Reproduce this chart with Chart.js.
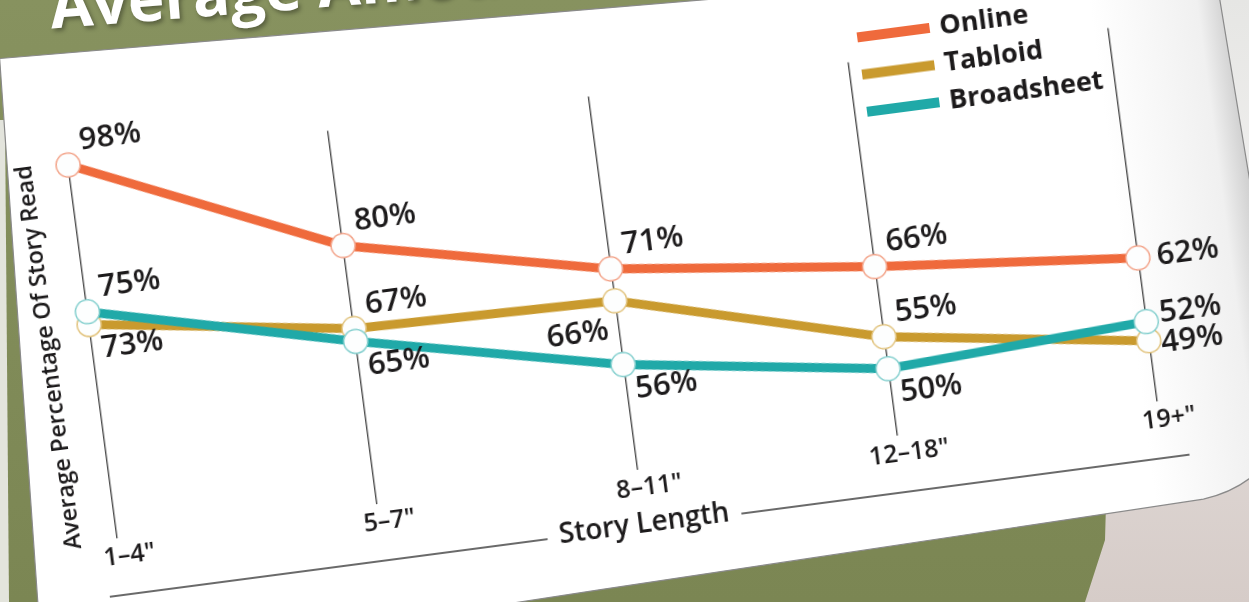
<!DOCTYPE html>
<html>
<head>
<meta charset="utf-8">
<script src="https://cdn.jsdelivr.net/npm/chart.js@4.4.1/dist/chart.umd.min.js"></script>
<style>
  html, body { margin: 0; padding: 0; }
  body {
    width: 1249px; height: 602px; overflow: hidden; position: relative;
    background: linear-gradient(180deg, #87925f 0%, #7b8653 100%);
    font-family: "Open Sans", sans-serif;
  }
  #paper {
    position: absolute; left: 0; top: 0; width: 1249px; height: 602px;
    background: linear-gradient(180deg, #e6e6e4 0%, #f3f2f1 45%, #ddd5d2 75%, #d6ccc8 100%);
    clip-path: polygon(1120px 0, 1249px 0, 1249px 602px, 1085px 602px, 1105px 540px);
  }
  #edge {
    position: absolute; left: 0; top: 0; width: 12px; height: 602px; background: #e3e4dc;
    clip-path: polygon(0 120px, 5px 120px, 9px 602px, 0 602px);
  }
  #frame {
    position: absolute; left: 0; top: 0; width: 1260px; height: 680px;
    transform-origin: 0 0; transform: rotate(-7.5deg);
  }
  #sheet { position: absolute; left: 0; top: 0; overflow: visible; }
  #title {
    position: absolute; left: 47px; top: -20px; color: #fff; white-space: nowrap;
    font: 700 62px "Open Sans"; line-height: 1;
    transform-origin: 0 100%; transform: rotate(3deg);
    text-shadow: 2px 3px 4px rgba(0, 0, 0, .35);
  }
  #chart { position: absolute; left: -30px; top: 0; }
</style>
</head>
<body>
<div id="paper"></div>
<div id="edge"></div>
<div id="frame">
  <div id="title">Average Amount Read</div>
  <svg id="sheet" width="1260" height="680">
    <defs>
      <linearGradient id="curl" gradientUnits="userSpaceOnUse" x1="1080" y1="0" x2="1222" y2="0">
        <stop offset="0" stop-color="#ffffff"/>
        <stop offset="0.75" stop-color="#f0f0f0"/>
        <stop offset="1" stop-color="#c8c8c8"/>
      </linearGradient>
    </defs>
    <path d="M -8 58 L 1208 116 L 1222 540 Q 1222 642 1128 652 L 517 663 L -45 675 L -41 600 Z"
          fill="url(#curl)" stroke="#8a8a8a" stroke-width="1.2"/>
  </svg>
  <canvas id="chart" width="1260" height="640"></canvas>
</div>

<script>
const categories = ['1–4"', '5–7"', '8–11"', '12–18"', '19+"'];
const online = [98, 80, 71, 66, 62];
const tabloid = [73, 67, 66, 55, 49];
const broadsheet = [75, 65, 56, 50, 52];

// where each value label sits next to its point (one row per series)
const labelSpots = [
    ['ne', 'ne', 'ne', 'ne', 'e'],
    ['se', 'ne', 'sw', 'ne', 'es'],
    ['ne', 'se', 'se', 'se', 'en']
];
const spot = {
    ne: [14, -22, 'left'], se: [9, 26, 'left'], e: [19, 1, 'left'],
    sw: [-10, 29, 'right'], en: [14, -6, 'left'], es: [12, 4, 'left']
};

Chart.defaults.font.family = '"Open Sans", sans-serif';
const ink = '#1c1a1b';

const valueLabels = {
    id: 'valueLabels',
    afterDatasetsDraw(chart) {
        const ctx = chart.ctx;
        ctx.save();
        ctx.font = '600 31px "Open Sans"';
        ctx.fillStyle = ink;
        ctx.textBaseline = 'middle';
        chart.data.datasets.forEach((ds, i) => {
            chart.getDatasetMeta(i).data.forEach((pt, j) => {
                const s = spot[labelSpots[i][j]];
                ctx.textAlign = s[2];
                ctx.fillText(ds.data[j] + '%', pt.x + s[0], pt.y + s[1]);
            });
        });
        ctx.restore();
    }
};

// stacked legend in the upper right
const sideLegend = {
    id: 'sideLegend',
    afterDraw(chart) {
        const ctx = chart.ctx;
        ctx.save();
        ctx.font = '700 27px "Open Sans"';
        ctx.textBaseline = 'middle';
        chart.data.datasets.forEach((ds, i) => {
            const y = 149 + i * 37.5;
            ctx.fillStyle = ds.borderColor;
            ctx.fillRect(875, y - 5, 73, 10);
            ctx.fillStyle = ink;
            ctx.fillText(ds.label, 958, y);
        });
        ctx.restore();
    }
};

// base rule broken around the x title
const baseLine = {
    id: 'baseLine',
    afterDraw(chart) {
        const ctx = chart.ctx, x = chart.scales.x;
        const t = x.options.title;
        ctx.save();
        ctx.font = '600 ' + t.font.size + 'px "Open Sans"';
        const w = ctx.measureText(t.text).width;
        const mid = (x.left + x.right) / 2;
        ctx.strokeStyle = '#3a3a3a';
        ctx.lineWidth = 1.6;
        ctx.beginPath();
        ctx.moveTo(61, 606); ctx.lineTo(mid - w / 2 - 12, 606);
        ctx.moveTo(mid + w / 2 + 12, 606); ctx.lineTo(1150, 606);
        ctx.stroke();
        ctx.restore();
    }
};

const common = {
    borderWidth: 9, pointRadius: 12, pointHoverRadius: 12, pointBorderWidth: 1.5,
    pointBackgroundColor: '#fdfefe', tension: 0, clip: false
};

new Chart(document.getElementById('chart'), {
    type: 'line',
    data: {
        labels: categories,
        datasets: [
            { ...common, label: 'Online', data: online, borderColor: '#ef6a3c', pointBorderColor: '#f3a48a', order: 2 },
            { ...common, label: 'Tabloid', data: tabloid, borderColor: '#c99a2e', pointBorderColor: '#e2c47f', order: 1 },
            { ...common, label: 'Broadsheet', data: broadsheet, borderColor: '#20a9a8', pointBorderColor: '#86d0cf', order: 0 }
        ]
    },
    options: {
        responsive: false,
        animation: false,
        layout: { padding: { left: 0, right: 135.5, top: 172.5, bottom: 0 } },
        plugins: { legend: { display: false }, tooltip: { enabled: false } },
        scales: {
            x: {
                grid: { color: '#4d4d4d', lineWidth: 1.4, drawTicks: false },
                border: { display: false },
                ticks: { color: ink, font: { size: 25, weight: '600' }, padding: 4, labelOffset: 10, maxRotation: 0, autoSkip: false },
                title: { display: true, text: 'Story Length', color: ink, font: { size: 28, weight: '600' }, padding: { top: 0, bottom: 19 } },
                afterFit(s) { s.height = 91; }
            },
            y: {
                min: 39.5, max: 98,
                grid: { display: false },
                border: { display: false },
                ticks: { display: false },
                title: { display: true, text: 'Average Percentage Of Story Read', color: ink, font: { size: 23.5, weight: '600' }, padding: { top: 18, bottom: 0 } },
                afterFit(s) { s.width = 76; }
            }
        }
    },
    plugins: [valueLabels, sideLegend, baseLine]
});
</script>
</body>
</html>
